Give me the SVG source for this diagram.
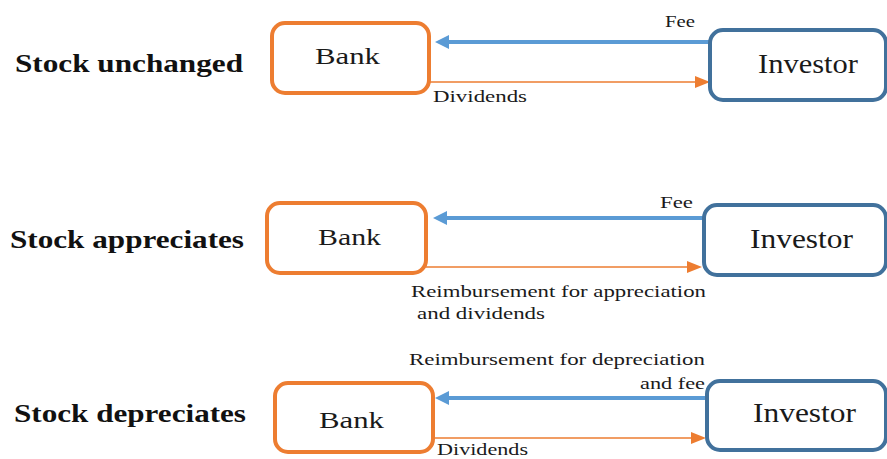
<svg xmlns="http://www.w3.org/2000/svg" width="887" height="459" viewBox="0 0 887 459">
<style>
.bank{fill:#fff;stroke:#ED7D31;stroke-width:4}
.inv{fill:#fff;stroke:#41719C;stroke-width:4}
.bt{font-size:24px;fill:#1a1a1a}
.it{font-size:27px;fill:#1a1a1a}
.lab{font-size:26px;font-weight:bold;fill:#111}
.small{font-size:17px;fill:#1a1a1a}
.blue{stroke:#5B9BD5;stroke-width:4;fill:none}
.orange{stroke:#ED7D31;stroke-width:1.5;fill:none}
</style>
<rect width="887" height="459" fill="#fff"/>
<g id="labels" font-family="Liberation Serif, serif">
<text class="lab" x="15" y="72" textLength="228" lengthAdjust="spacingAndGlyphs">Stock unchanged</text>
<text class="lab" x="10" y="248" textLength="234" lengthAdjust="spacingAndGlyphs">Stock appreciates</text>
<text class="lab" x="14" y="422" textLength="232" lengthAdjust="spacingAndGlyphs">Stock depreciates</text>
</g>
<g id="connectors">
<line class="blue" x1="710" y1="42" x2="448" y2="42"/>
<polygon points="435,42 449,35 449,49" fill="#5B9BD5"/>
<line class="orange" x1="429" y1="82" x2="696" y2="82"/>
<polygon points="710,82 695,76 695,88" fill="#ED7D31"/>
<line class="blue" x1="704" y1="218" x2="446" y2="218"/>
<polygon points="433,218 447,211 447,225" fill="#5B9BD5"/>
<line class="orange" x1="426" y1="267" x2="688" y2="267"/>
<polygon points="702,267 687,261 687,273" fill="#ED7D31"/>
<line class="blue" x1="707" y1="398" x2="448" y2="398"/>
<polygon points="435,398 449,391 449,405" fill="#5B9BD5"/>
<line class="orange" x1="433" y1="438" x2="692" y2="438"/>
<polygon points="706,438 691,432 691,444" fill="#ED7D31"/>
</g>
<g id="edge-labels" font-family="Liberation Serif, serif">
<text class="small" x="665" y="27" textLength="30" lengthAdjust="spacingAndGlyphs">Fee</text>
<text class="small" x="433" y="102" textLength="94" lengthAdjust="spacingAndGlyphs">Dividends</text>
<text class="small" x="660" y="208" textLength="33" lengthAdjust="spacingAndGlyphs">Fee</text>
<text class="small" x="411" y="297" textLength="295" lengthAdjust="spacingAndGlyphs">Reimbursement for appreciation</text>
<text class="small" x="417" y="319" textLength="128" lengthAdjust="spacingAndGlyphs">and dividends</text>
<text class="small" x="409" y="365" textLength="296" lengthAdjust="spacingAndGlyphs">Reimbursement for depreciation</text>
<text class="small" x="640" y="389" textLength="65" lengthAdjust="spacingAndGlyphs">and fee</text>
<text class="small" x="437" y="455" textLength="91" lengthAdjust="spacingAndGlyphs">Dividends</text>
</g>
<g font-family="Liberation Serif, serif">
<g id="bank1"><rect class="bank" x="272" y="23" width="157" height="70" rx="13"/><text class="bt" x="315" y="64" textLength="65" lengthAdjust="spacingAndGlyphs">Bank</text></g>
<g id="investor1"><rect class="inv" x="710" y="30" width="176" height="70" rx="13"/><text class="it" x="758" y="73" textLength="100" lengthAdjust="spacingAndGlyphs">Investor</text></g>
<g id="bank2"><rect class="bank" x="267" y="203" width="159" height="70" rx="13"/><text class="bt" x="318" y="245" textLength="63" lengthAdjust="spacingAndGlyphs">Bank</text></g>
<g id="investor2"><rect class="inv" x="704" y="205" width="182" height="70" rx="13"/><text class="it" x="750" y="248" textLength="103" lengthAdjust="spacingAndGlyphs">Investor</text></g>
<g id="bank3"><rect class="bank" x="275" y="383" width="158" height="69" rx="13"/><text class="bt" x="319" y="428" textLength="65" lengthAdjust="spacingAndGlyphs">Bank</text></g>
<g id="investor3"><rect class="inv" x="707" y="381" width="179" height="69" rx="13"/><text class="it" x="753" y="422" textLength="103" lengthAdjust="spacingAndGlyphs">Investor</text></g>
</g>
</svg>
